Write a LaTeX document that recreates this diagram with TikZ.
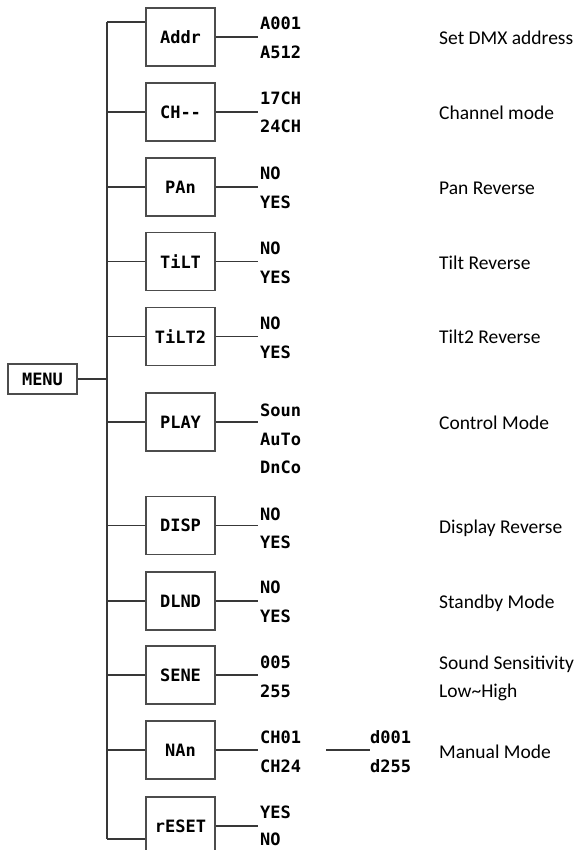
\documentclass[tikz,border=0pt]{standalone}
\usepackage{fontspec}
\setmainfont{Carlito}
\newfontfamily\lcdfont{DejaVu Sans Mono}
\begin{document}
\begin{tikzpicture}[x=1pt,y=-1pt,
  wire/.style={draw=black!78,line width=1.4pt},
  menubox/.style={draw=black!70,line width=1.4pt,minimum width=69pt,minimum height=58pt,inner sep=0pt,font=\lcdfont\bfseries\fontsize{17}{17}\selectfont},
  optxt/.style={anchor=west,inner sep=0pt,text height=0.73em,text depth=0pt,font=\lcdfont\bfseries\fontsize{17}{17}\selectfont},
  desc/.style={anchor=west,inner sep=0pt,text height=0.64em,text depth=0pt,font=\fontsize{19.5}{20}\selectfont}]
\useasboundingbox[fill=white] (0,0) rectangle (581,850);
% main menu
\node[menubox,minimum height=30pt] (menu) at (42.5,379) {MENU};
\coordinate (ttop) at (107,22);
\coordinate (tbot) at (107,839);
\coordinate (tmid) at (107,379);
\draw[wire] (ttop) -- (tbot);
\draw[wire] (menu.east) -- (tmid);
% submenu boxes
\node[menubox] (addr) at (180.5,37) {Addr};
\node[menubox] (ch) at (180.5,112) {CH--};
\node[menubox] (pan) at (180.5,187) {PAn};
\node[menubox] (tilt) at (180.5,261.5) {TiLT};
\node[menubox] (tiltb) at (180.5,336.5) {TiLT2};
\node[menubox] (play) at (180.5,422) {PLAY};
\node[menubox] (disp) at (180.5,525.5) {DISP};
\node[menubox] (dlnd) at (180.5,601) {DLND};
\node[menubox] (sene) at (180.5,675) {SENE};
\node[menubox] (nan) at (180.5,750) {NAn};
\node[menubox] (reset) at (180.5,826) {rESET};
% trunk branches
\draw[wire] (ttop) -- (ttop -| addr.west);
\foreach \b in {ch,pan,tilt,tiltb,play,disp,dlnd,sene,nan}
  \draw[wire] (tmid |- \b.west) -- (\b.west);
\draw[wire] (tbot) -- (tbot -| reset.west);
% right wires
\foreach \b in {addr,ch,pan,tilt,tiltb,play,disp,dlnd,sene,nan,reset}
  \draw[wire] (\b.east) -- ++(42,0) coordinate (\b-r);
% options
\node[optxt] (o1a) at (260,26) {A001};
\node[optxt] (o1b) at (260,55) {A512};
\node[optxt] (o2a) at (260,101) {17CH};
\node[optxt] (o2b) at (260,129) {24CH};
\node[optxt] (o3a) at (260,176) {NO};
\node[optxt] (o3b) at (260,205) {YES};
\node[optxt] (o4a) at (260,251) {NO};
\node[optxt] (o4b) at (260,280) {YES};
\node[optxt] (o5a) at (260,326) {NO};
\node[optxt] (o5b) at (260,355) {YES};
\node[optxt] (o6a) at (260,413) {Soun};
\node[optxt] (o6b) at (260,442) {AuTo};
\node[optxt] (o6c) at (260,470) {DnCo};
\node[optxt] (o7a) at (260,517) {NO};
\node[optxt] (o7b) at (260,545) {YES};
\node[optxt] (o8a) at (260,590) {NO};
\node[optxt] (o8b) at (260,619) {YES};
\node[optxt] (o9a) at (260,665) {005};
\node[optxt] (o9b) at (260,694) {255};
\node[optxt] (o10a) at (260,740) {CH01};
\node[optxt] (o10b) at (260,769) {CH24};
\node[optxt] (o11a) at (260,815) {YES};
\node[optxt] (o11b) at (260,842) {NO};
\node[optxt] (dva) at (370,740) {d001};
\node[optxt] (dvb) at (370,769) {d255};
\coordinate (mleft) at (326,750);
\draw[wire] (mleft) -- (mleft -| dva.west);
% descriptions
\node[desc] (d1) at (439,41) {Set DMX address};
\node[desc] (d2) at (439,116) {Channel mode};
\node[desc] (d3) at (439,191) {Pan Reverse};
\node[desc] (d4) at (439,266) {Tilt Reverse};
\node[desc] (d5) at (439,340) {Tilt2 Reverse};
\node[desc] (d6) at (439,426) {Control Mode};
\node[desc] (d7) at (439,530) {Display Reverse};
\node[desc] (d8) at (439,605) {Standby Mode};
\node[desc] (d9) at (439,666) {Sound Sensitivity};
\node[desc] (d9b) at (439,694) {Low\textasciitilde High};
\node[desc] (d10) at (439,755) {Manual Mode};
\end{tikzpicture}
\end{document}
